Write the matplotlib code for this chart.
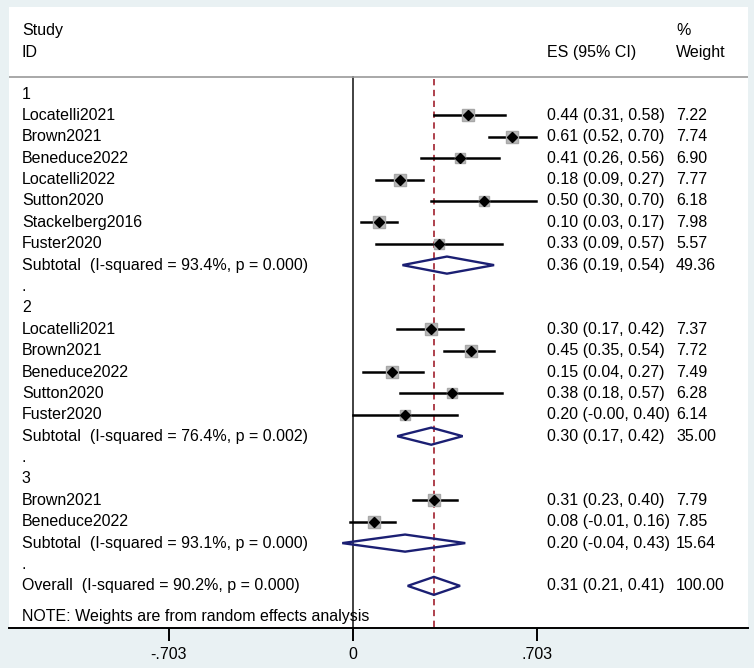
import matplotlib.pyplot as plt
from matplotlib.patches import Polygon

plt.rcParams['font.family'] = ['Liberation Sans', 'DejaVu Sans']

# study rows, grouped 1..3
groups = ["1", "2", "3"]
study_group = [1, 1, 1, 1, 1, 1, 1, 2, 2, 2, 2, 2, 3, 3]
study_names = ["Locatelli2021", "Brown2021", "Beneduce2022", "Locatelli2022",
               "Sutton2020", "Stackelberg2016", "Fuster2020",
               "Locatelli2021", "Brown2021", "Beneduce2022", "Sutton2020",
               "Fuster2020",
               "Brown2021", "Beneduce2022"]
study_es = [0.44, 0.61, 0.41, 0.18, 0.50, 0.10, 0.33,
            0.30, 0.45, 0.15, 0.38, 0.20,
            0.31, 0.08]
study_lo = [0.31, 0.52, 0.26, 0.09, 0.30, 0.03, 0.09,
            0.17, 0.35, 0.04, 0.18, -0.00,
            0.23, -0.01]
study_hi = [0.58, 0.70, 0.56, 0.27, 0.70, 0.17, 0.57,
            0.42, 0.54, 0.27, 0.57, 0.40,
            0.40, 0.16]
study_wt = [7.22, 7.74, 6.90, 7.77, 6.18, 7.98, 5.57,
            7.37, 7.72, 7.49, 6.28, 6.14,
            7.79, 7.85]

sub_isq = [93.4, 76.4, 93.1]
sub_p = [0.000, 0.002, 0.000]
sub_es = [0.36, 0.30, 0.20]
sub_lo = [0.19, 0.17, -0.04]
sub_hi = [0.54, 0.42, 0.43]
sub_wt = [49.36, 35.00, 15.64]

overall_isq = 90.2
overall_p = 0.000
overall_es = 0.31
overall_lo = 0.21
overall_hi = 0.41
overall_wt = 100.00

xticks = [-0.703, 0, 0.703]
xtick_labels = ["-.703", "0", ".703"]

navy = '#1b1f73'
fs = 11.5

fig = plt.figure(figsize=(7.54, 6.68), dpi=100, facecolor='#e9f1f3')
ax = fig.add_axes([9 / 754, 40 / 668, 739 / 754, 621 / 668])
ax.set_facecolor('white')
ax.set_xlim(-1.313, 1.510)
ax.set_ylim(24.97, -4.07)

x_lab = -1.264
x_es = 0.742
x_wt = 1.235


def ci_text(es, lo, hi):
    return "{:.2f} ({:.2f}, {:.2f})".format(es, lo, hi)


def diamond(es, lo, hi, row, h=0.4):
    pts = [(lo, row), (es, row - h), (hi, row), (es, row + h)]
    ax.add_patch(Polygon(pts, closed=True, facecolor='none', edgecolor=navy,
                         lw=1.7, zorder=4))


# header
ax.text(x_lab, -2.95, "Study", fontsize=fs, va='center')
ax.text(x_lab, -1.96, "ID", fontsize=fs, va='center')
ax.text(x_es, -1.96, "ES (95% CI)", fontsize=fs, va='center')
ax.text(x_wt, -2.95, "%", fontsize=fs, va='center')
ax.text(x_wt, -1.96, "Weight", fontsize=fs, va='center')
ax.axhline(-0.79, color='#9a9a9a', lw=1.2)

row = 0
for gi, g in enumerate(groups):
    ax.text(x_lab, row, g, fontsize=fs, va='center')
    row += 1
    for i in range(len(study_names)):
        if study_group[i] != gi + 1:
            continue
        ax.plot([study_lo[i], study_hi[i]], [row, row], color='black', lw=1.8, zorder=2)
        ax.plot(study_es[i], row, marker='s', ms=3.0 * study_wt[i] ** 0.5,
                color='#b8b8b8', mec='#a8a8a8', zorder=3)
        ax.plot(study_es[i], row, marker='D', ms=4.6, color='black', zorder=5)
        ax.text(x_lab, row, study_names[i], fontsize=fs, va='center')
        ax.text(x_es, row, ci_text(study_es[i], study_lo[i], study_hi[i]),
                fontsize=fs, va='center')
        ax.text(x_wt, row, "{:.2f}".format(study_wt[i]), fontsize=fs, va='center')
        row += 1
    diamond(sub_es[gi], sub_lo[gi], sub_hi[gi], row)
    ax.text(x_lab, row, "Subtotal  (I-squared = {:.1f}%, p = {:.3f})".format(sub_isq[gi], sub_p[gi]),
            fontsize=fs, va='center')
    ax.text(x_es, row, ci_text(sub_es[gi], sub_lo[gi], sub_hi[gi]), fontsize=fs, va='center')
    ax.text(x_wt, row, "{:.2f}".format(sub_wt[gi]), fontsize=fs, va='center')
    row += 1
    ax.text(x_lab, row, ".", fontsize=fs, va='center')
    row += 1

diamond(overall_es, overall_lo, overall_hi, row, h=0.42)
ax.text(x_lab, row, "Overall  (I-squared = {:.1f}%, p = {:.3f})".format(overall_isq, overall_p),
        fontsize=fs, va='center')
ax.text(x_es, row, ci_text(overall_es, overall_lo, overall_hi), fontsize=fs, va='center')
ax.text(x_wt, row, "{:.2f}".format(overall_wt), fontsize=fs, va='center')
ax.text(x_lab, row + 1.45, "NOTE: Weights are from random effects analysis", fontsize=fs, va='center')

# reference lines
ax.plot([0, 0], [-0.79, 24.97], color='#333333', lw=1.3, zorder=1)
ax.plot([overall_es, overall_es], [-0.7, 24.97], color='#a8323e', lw=1.3,
        linestyle=(0, (3.5, 2.5)), zorder=1)

for s in ['top', 'left', 'right']:
    ax.spines[s].set_visible(False)
ax.spines['bottom'].set_linewidth(1.4)
ax.set_xticks(xticks, xtick_labels)
ax.set_yticks([])
ax.tick_params(axis='x', length=9, width=1.4, labelsize=fs, pad=5)

fig.savefig('out.png', dpi=100, facecolor=fig.get_facecolor())
